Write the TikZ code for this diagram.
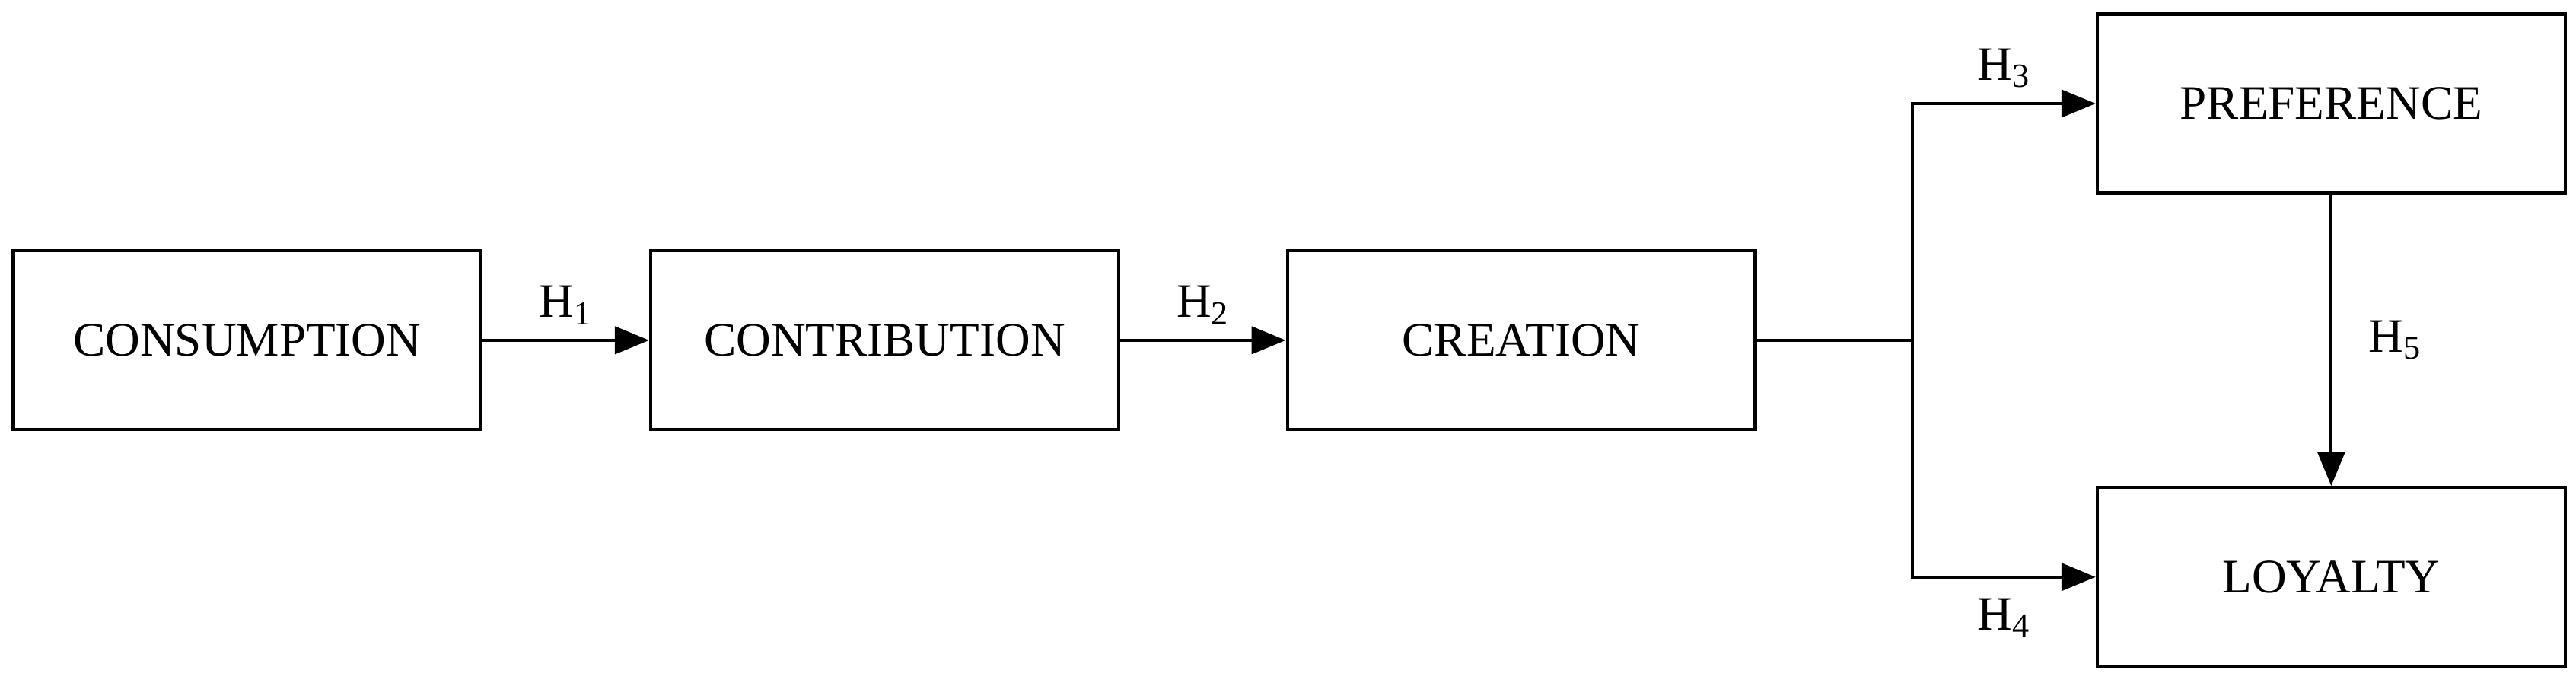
\documentclass[tikz,border=0pt]{standalone}
\usepackage{fontspec}
\setmainfont{Liberation Serif}
\usetikzlibrary{arrows.meta}
\begin{document}
\begin{tikzpicture}[x=0.02159cm,y=-0.02159cm,
  box/.style={draw,line width=1.2pt,minimum width=6.15cm,minimum height=2.35cm,inner sep=0pt,font=\fontsize{18}{22}\selectfont},
  lab/.style={font=\fontsize{18}{22}\selectfont},
  con/.style={line width=1.2pt},
  arr/.style={con,-{Triangle[length=0.45cm,width=0.36cm]}}]
\useasboundingbox (0,0) rectangle (1568,413.6);
\node[box] (cons) at (150.5,207) {CONSUMPTION};
\node[box] (cont) at (538.5,207) {CONTRIBUTION};
\node[box] (crea) at (926,207) {CREATION};
\node[box] (pref) at (1419,63) {PREFERENCE};
\node[box] (loya) at (1419,351) {LOYALTY};
\coordinate (j) at (1164,207);
\draw[arr] (cons) -- (cont) node[lab,midway,above=2pt] {H\textsubscript{1}};
\draw[arr] (cont) -- (crea) node[lab,midway,above=2pt] {H\textsubscript{2}};
\draw[con] (crea) -- (j);
\draw[arr] (j) |- (pref.west) node[lab,pos=0.75,above=2pt] {H\textsubscript{3}};
\draw[arr] (j) |- (loya.west) node[lab,pos=0.75,below=4pt] {H\textsubscript{4}};
\draw[arr] (pref) -- (loya) node[lab,midway,right=10pt] {H\textsubscript{5}};
\end{tikzpicture}
\end{document}
